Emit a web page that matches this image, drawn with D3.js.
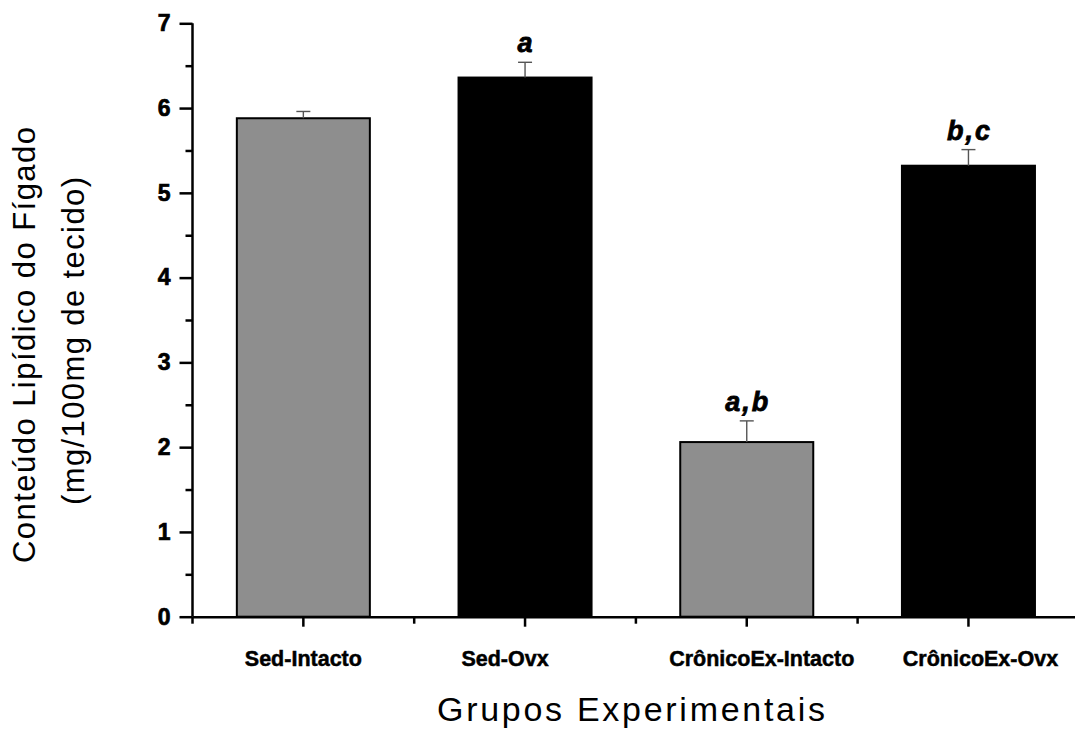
<!DOCTYPE html>
<html>
<head>
<meta charset="utf-8">
<script src="https://cdn.jsdelivr.net/npm/d3@7"></script>
<style>
  html, body { margin: 0; padding: 0; background: #fff; }
  svg { display: block; }
  text { font-family: "Liberation Sans", Arial, Helvetica, sans-serif; }
</style>
</head>
<body>
<svg id="chart" width="1075" height="731"></svg>
<script>
// ---- data ----
const categories = ["Sed-Intacto", "Sed-Ovx", "CrônicoEx-Intacto", "CrônicoEx-Ovx"];
const meanValues = [5.88, 6.36, 2.06, 5.32];
const errorValues = [0.08, 0.18, 0.25, 0.19];
const significance = ["", "a", "a,b", "b,c"];
const yTickValues = [0, 1, 2, 3, 4, 5, 6, 7];
const yMinorTickValues = [0.5, 1.5, 2.5, 3.5, 4.5, 5.5, 6.5];
const yTitleLines = ["Conteúdo Lipídico do Fígado", "(mg/100mg de tecido)"];
const xTitle = "Grupos Experimentais";

// ---- layout / style ----
const barFills = ["#8e8e8e", "#000000", "#8e8e8e", "#000000"];
const labelShift = [0, -20, 15, 12];
const svg = d3.select("#chart");
const x0 = 192.5, step = 221.7;
const x = d3.scaleBand().domain(categories).range([x0, x0 + step * categories.length]).padding(0);
const y = d3.scaleLinear().domain([0, 7]).range([616.7, 23.3]);
const barW = x.bandwidth() * 0.6;

const data = categories.map((c, i) => ({c, v: meanValues[i], e: errorValues[i], s: significance[i], fill: barFills[i]}));

// bars
svg.append("g").selectAll("rect").data(data).join("rect")
  .attr("x", d => x(d.c) + x.bandwidth() / 2 - barW / 2)
  .attr("y", d => y(d.v))
  .attr("width", barW)
  .attr("height", d => y(0) - y(d.v))
  .attr("fill", d => d.fill)
  .attr("stroke", "#000")
  .attr("stroke-width", 2);

// error bars
const eb = svg.append("g").attr("stroke", "#555").attr("stroke-width", 1.4);
data.forEach(d => {
  const cx = x(d.c) + x.bandwidth() / 2;
  eb.append("line").attr("x1", cx).attr("x2", cx).attr("y1", y(d.v)).attr("y2", y(d.v + d.e));
  eb.append("line").attr("x1", cx - 7).attr("x2", cx + 7).attr("y1", y(d.v + d.e)).attr("y2", y(d.v + d.e));
});

// significance letters
svg.append("g").selectAll("text").data(data.filter(d => d.s)).join("text")
  .attr("x", d => x(d.c) + x.bandwidth() / 2 + 1)
  .attr("y", d => y(d.v + d.e) - 10)
  .attr("text-anchor", "middle")
  .attr("font-size", 27)
  .attr("font-weight", "bold")
  .attr("font-style", "italic")
  .attr("letter-spacing", 2)
  .attr("stroke", "#000").attr("stroke-width", 0.8)
  .text(d => d.s);

// y axis
const yAxis = svg.append("g").attr("transform", `translate(${x0},0)`)
  .call(d3.axisLeft(y).tickValues(yTickValues).tickSize(13).tickPadding(9).tickFormat(d3.format("d")));
yAxis.select(".domain").attr("stroke-width", 2.5).attr("d", `M0,${y(7)}V${y(0)}`);
yAxis.selectAll(".tick line").attr("stroke-width", 2.5);
yAxis.selectAll(".tick text").attr("font-size", 23).attr("font-weight", "bold").attr("fill", "#000")
  .attr("stroke", "#000").attr("stroke-width", 0.7)
  .style("font-family", "'Liberation Sans', Arial, sans-serif");
const yMinor = svg.append("g").attr("transform", `translate(${x0},0)`)
  .call(d3.axisLeft(y).tickValues(yMinorTickValues).tickSize(7).tickFormat(""));
yMinor.select(".domain").remove();
yMinor.selectAll(".tick line").attr("stroke-width", 2.5);

// x axis
const xAxis = svg.append("g").attr("transform", `translate(0,${y(0)})`)
  .call(d3.axisBottom(x).tickSize(10).tickSizeOuter(0).tickPadding(24));
xAxis.select(".domain").attr("stroke-width", 2.5);
xAxis.selectAll(".tick line").attr("stroke-width", 2.5);
xAxis.selectAll(".tick text")
  .attr("font-size", 21.5).attr("font-weight", "bold").attr("fill", "#000")
  .attr("stroke", "#000").attr("stroke-width", 0.5)
  .attr("dy", "0.71em")
  .attr("x", (d, i) => labelShift[i])
  .style("font-family", "'Liberation Sans', Arial, sans-serif");
// minor ticks at band boundaries
const bounds = categories.map(c => x(c));
svg.append("g").selectAll("line").data(bounds).join("line")
  .attr("x1", d => d).attr("x2", d => d)
  .attr("y1", y(0)).attr("y2", y(0) + 7)
  .attr("stroke", "#000").attr("stroke-width", 2.5);

// axis titles
const yt = svg.append("g");
yt.append("text").attr("transform", "translate(35,345) rotate(-90)")
  .attr("text-anchor", "middle").attr("font-size", 31)
  .attr("textLength", 436).attr("lengthAdjust", "spacing")
  .text(yTitleLines[0]);
yt.append("text").attr("transform", "translate(84,341) rotate(-90)")
  .attr("text-anchor", "middle").attr("font-size", 31)
  .attr("textLength", 328).attr("lengthAdjust", "spacing")
  .text(yTitleLines[1]);

svg.append("text").attr("x", 631).attr("y", 721)
  .attr("text-anchor", "middle").attr("font-size", 34)
  .attr("textLength", 388).attr("lengthAdjust", "spacing")
  .text(xTitle);
</script>
</body>
</html>
